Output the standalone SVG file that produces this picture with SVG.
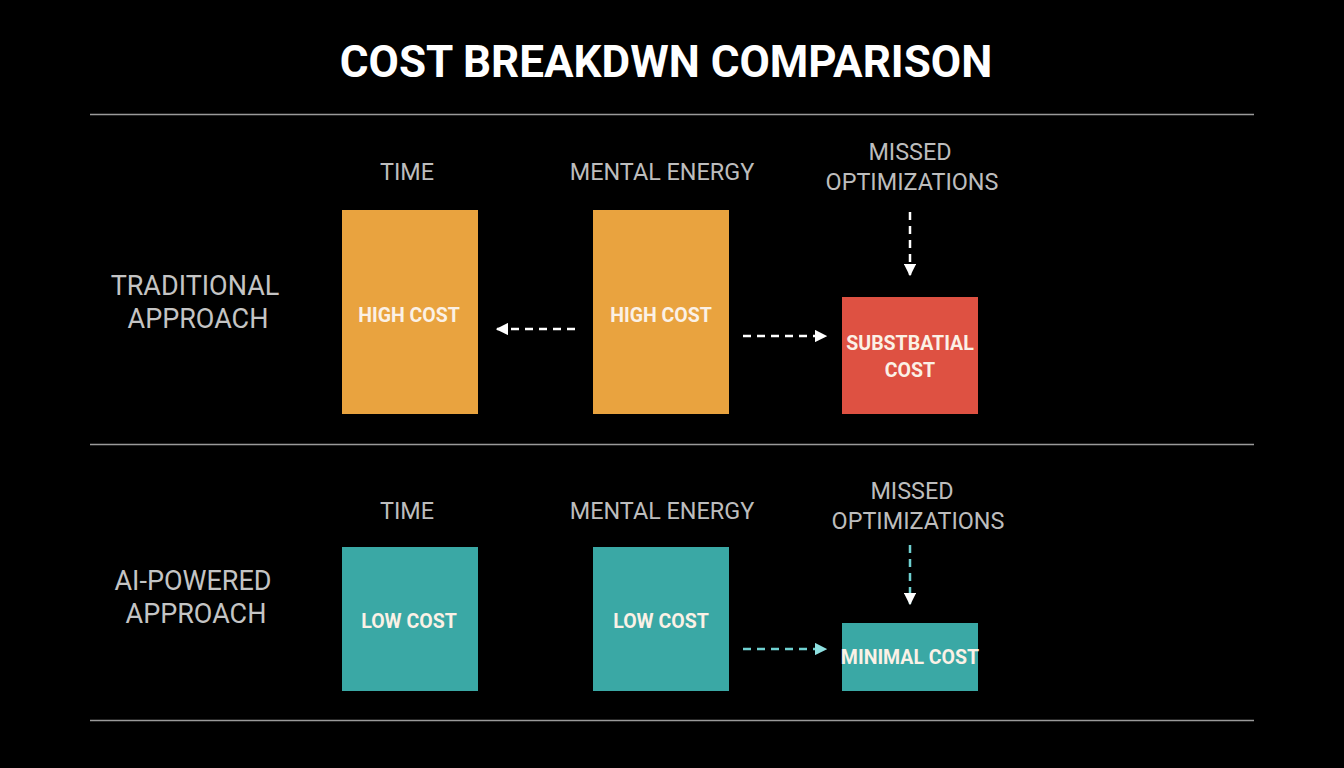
<svg xmlns="http://www.w3.org/2000/svg" width="1344" height="768" viewBox="0 0 1344 768">
<defs>
<style>
.t{font-family:Roboto,"Liberation Sans",sans-serif;text-anchor:middle}
.title{font-size:44px;font-weight:bold;fill:#ffffff}
.hd{font-size:23.4px;fill:#bdbdbd}
.rl{font-size:27px;fill:#c4c4c4}
.bx{font-size:19.5px;font-weight:bold;fill:#fbf1e6}
.sep{stroke:#9a9a9a;stroke-width:1.5}
.dw{stroke:#ffffff;stroke-width:2.5;stroke-dasharray:8 6;fill:none}
.dt{stroke:#6fd0d0;stroke-width:2.5;stroke-dasharray:8 6;fill:none}
.or{fill:#E9A33F}
.rd{fill:#DE5142}
.tl{fill:#3AA8A5}
</style>
<marker id="aw" viewBox="0 0 10 10" refX="9" refY="5" markerWidth="5" markerHeight="5" orient="auto" markerUnits="strokeWidth"><path d="M0,0 L10,5 L0,10 z" fill="#ffffff"/></marker>
<marker id="at" viewBox="0 0 10 10" refX="9" refY="5" markerWidth="5" markerHeight="5" orient="auto" markerUnits="strokeWidth"><path d="M0,0 L10,5 L0,10 z" fill="#8ee0e0"/></marker>
</defs>
<rect width="1344" height="768" fill="#000000"/>
<text class="t title" x="666" y="77">COST BREAKDWN COMPARISON</text>
<g id="separators">
<line class="sep" x1="90" y1="114.5" x2="1254" y2="114.5"/>
<line class="sep" x1="90" y1="444.5" x2="1254" y2="444.5"/>
<line class="sep" x1="90" y1="720.5" x2="1254" y2="720.5"/>
</g>
<g id="row1-label"><text class="t rl" x="195" y="295">TRADITIONAL</text><text class="t rl" x="198" y="328">APPROACH</text></g>
<g id="row2-label"><text class="t rl" x="193" y="590">AI-POWERED</text><text class="t rl" x="196" y="623">APPROACH</text></g>
<g id="headers1">
<text class="t hd" x="407" y="180">TIME</text>
<text class="t hd" x="662" y="180">MENTAL ENERGY</text>
<text class="t hd" x="910" y="160">MISSED</text>
<text class="t hd" x="912" y="190">OPTIMIZATIONS</text>
</g>
<g id="headers2">
<text class="t hd" x="407" y="519">TIME</text>
<text class="t hd" x="662" y="519">MENTAL ENERGY</text>
<text class="t hd" x="912" y="499">MISSED</text>
<text class="t hd" x="918" y="529">OPTIMIZATIONS</text>
</g>
<g id="trad-time"><rect class="or" x="342" y="210" width="136" height="204"/><text class="t bx" x="409" y="322">HIGH COST</text></g>
<g id="trad-mental"><rect class="or" x="593" y="210" width="136" height="204"/><text class="t bx" x="661" y="322">HIGH COST</text></g>
<g id="trad-missed"><rect class="rd" x="842" y="297" width="136" height="117"/><text class="t bx" x="910" y="350">SUBSTBATIAL</text><text class="t bx" x="910" y="377">COST</text></g>
<g id="ai-time"><rect class="tl" x="342" y="547" width="136" height="144"/><text class="t bx" x="409" y="628">LOW COST</text></g>
<g id="ai-mental"><rect class="tl" x="593" y="547" width="136" height="144"/><text class="t bx" x="661" y="628">LOW COST</text></g>
<g id="ai-missed"><rect class="tl" x="842" y="623" width="136" height="68"/><text class="t bx" x="910" y="664">MINIMAL COST</text></g>
<g id="connectors">
<path class="dw" d="M575,329 L497,329" marker-end="url(#aw)"/>
<path class="dw" d="M743,336 L826,336" marker-end="url(#aw)"/>
<path class="dw" d="M910,212 L910,275" marker-end="url(#aw)"/>
<path class="dt" d="M743,649 L826,649" marker-end="url(#at)"/>
<path class="dt" d="M910,545 L910,604" marker-end="url(#aw)"/>
</g>
</svg>
